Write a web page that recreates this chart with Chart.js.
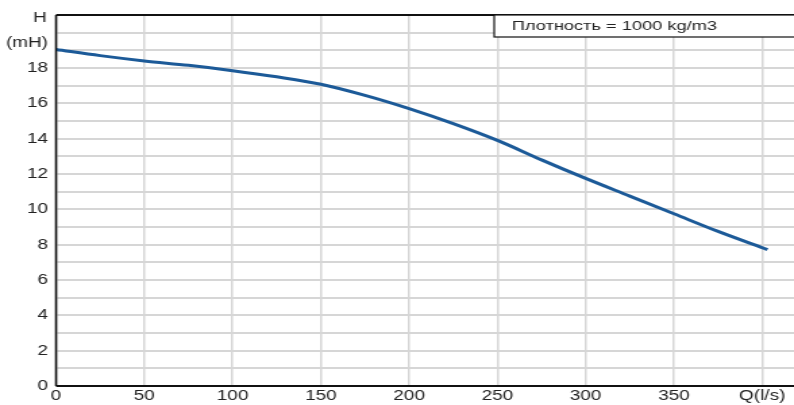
<!DOCTYPE html>
<html>
<head>
<meta charset="utf-8">
<script src="https://cdn.jsdelivr.net/npm/chart.js@4.4.1/dist/chart.umd.min.js"></script>
<style>
  html, body { margin: 0; padding: 0; background: #fff; overflow: hidden; }
  #wrap { width: 794px; height: 405px; position: relative; }
  /* the original picture is stretched sideways, so draw narrow and scale */
  #pumpChart { transform: scaleX(1.3503); transform-origin: 0 0; }
</style>
</head>
<body>
<div id="wrap"><canvas id="pumpChart" width="588" height="405"></canvas></div>
<script>
// flow Q (l/s) and head H (m)
const flowQ = [0, 25, 50, 75, 100, 125, 150, 175, 200, 225, 250, 275, 300, 325, 350, 375, 403];
const headH = [19.05, 18.7, 18.4, 18.15, 17.85, 17.5, 17.08, 16.45, 15.7, 14.85, 13.9, 12.8, 11.75, 10.75, 9.75, 8.75, 7.72];
const xTicks = [0, 50, 100, 150, 200, 250, 300, 350, 400];
const yTicks = [0, 2, 4, 6, 8, 10, 12, 14, 16, 18];
const densityText = "Плотность = 1000 kg/m3";

const family = "'Liberation Sans', Arial, sans-serif";
const font = { family: family, size: 14 };
const textColor = "#222";

// frame lines, axis title and density box
const decorations = {
  id: "decorations",
  afterDraw(chart) {
    const { ctx, chartArea } = chart;
    ctx.save();
    ctx.strokeStyle = "#111";
    ctx.lineWidth = 1.6;
    ctx.beginPath();
    ctx.moveTo(chartArea.left, chartArea.bottom);
    ctx.lineTo(chartArea.left, chartArea.top);
    ctx.stroke();
    ctx.lineWidth = 2;
    ctx.beginPath();
    ctx.moveTo(chartArea.left, chartArea.top);
    ctx.lineTo(chartArea.right, chartArea.top);
    ctx.moveTo(chartArea.left, chartArea.bottom);
    ctx.lineTo(chartArea.right, chartArea.bottom);
    ctx.stroke();

    // density box
    ctx.fillStyle = "#fff";
    ctx.fillRect(366, 15, 240, 22);
    ctx.lineWidth = 1.2;
    ctx.strokeRect(366, 15, 240, 22);
    ctx.fillStyle = textColor;
    ctx.font = "13.5px " + family;
    ctx.textBaseline = "middle";
    ctx.textAlign = "left";
    ctx.fillText(densityText, 379, 26);

    // y axis title
    ctx.font = font.size + "px " + family;
    ctx.textAlign = "right";
    ctx.fillText("H", 34.5, 18);
    ctx.fillText("(mH)", 35.5, 43);
    ctx.restore();
  }
};

new Chart(document.getElementById("pumpChart"), {
  type: "line",
  data: {
    datasets: [{
      data: flowQ.map((q, i) => ({ x: q, y: headH[i] })),
      borderColor: "#1c5a98",
      borderWidth: 3,
      pointRadius: 0,
      cubicInterpolationMode: "monotone",
      fill: false
    }]
  },
  options: {
    responsive: false,
    animation: false,
    layout: { padding: { top: 15, right: 0, left: 0, bottom: 0 } },
    plugins: { legend: { display: false }, tooltip: { enabled: false } },
    scales: {
      x: {
        type: "linear",
        min: 0,
        max: 418,
        afterBuildTicks: (axis) => { axis.ticks = xTicks.map((v) => ({ value: v })); },
        afterFit: (axis) => { axis.height = 19; },
        ticks: {
          font: font,
          color: textColor,
          padding: 2,
          maxRotation: 0,
          autoSkip: false,
          callback: (v) => (v === 400 ? "Q(l/s)" : v)
        },
        grid: { color: "#d6d6d6", lineWidth: 1.5, drawTicks: false },
        border: { display: false }
      },
      y: {
        min: 0,
        max: 21,
        afterBuildTicks: (axis) => {
          const vals = [];
          for (let v = 0; v <= 21; v++) vals.push({ value: v });
          axis.ticks = vals;
        },
        afterFit: (axis) => { axis.width = 41.5; },
        ticks: {
          font: font,
          color: textColor,
          padding: 6,
          autoSkip: false,
          callback: (v) => (yTicks.includes(v) ? v : "")
        },
        grid: { color: "#d6d6d6", lineWidth: 2, drawTicks: false },
        border: { display: false }
      }
    }
  },
  plugins: [decorations]
});
</script>
</body>
</html>
